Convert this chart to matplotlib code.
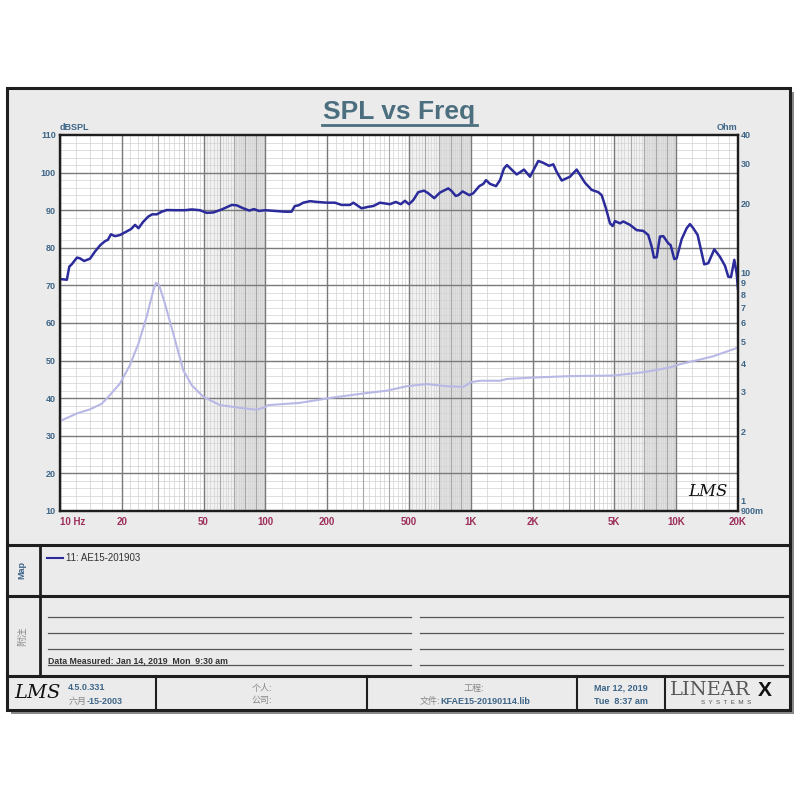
import numpy as np
import matplotlib
matplotlib.use('Agg')
import matplotlib.pyplot as plt
from matplotlib.patches import Rectangle
from matplotlib.ticker import NullLocator

plt.rcParams['font.family'] = ['Liberation Sans', 'Noto Sans CJK SC']

# SPL curve (Hz, dB SPL)
spl_freq = [10, 10.8, 11.1, 11.4, 12.1, 12.5, 13.1, 14.0, 14.8, 15.7, 16.6, 17.1,
            17.7, 18.5, 19.6, 20.7, 22.2, 23.2, 24.1, 25.4, 26.9, 28.1, 29.6, 31.3,
            33.1, 36.3, 40.6, 43.8, 48.0, 51.8, 55.8, 61.3, 68.6, 72.5, 78.1, 83.5,
            88.0, 93.1, 99.6, 124.6, 134, 139, 145, 153, 165, 178, 199, 218, 235,
            258, 268, 294, 317, 335, 361, 404, 432, 456, 478, 500, 525, 555, 592,
            621, 664, 708, 777, 807, 844, 869, 913, 983, 1028, 1100, 1151, 1186,
            1240, 1327, 1388, 1451, 1500, 1673, 1816, 1942, 2132, 2254, 2403, 2522,
            2620, 2771, 3041, 3278, 3597, 3879, 4176, 4338, 4551, 4761, 4907, 5035,
            5325, 5526, 5958, 6423, 6916, 7314, 7597, 7795, 8036, 8339, 8653, 9152,
            9401, 9789, 10055, 10636, 11247, 11674, 12116, 12723, 13700, 14330,
            15330, 16340, 17290, 17940, 18490, 19190, 19700, 20000]
spl_db = [71.7, 71.5, 75.0, 75.6, 77.4, 77.2, 76.5, 77.1, 79.0, 80.7, 81.8, 82.1,
          83.6, 83.1, 83.4, 84.1, 85.0, 86.1, 85.2, 86.9, 88.3, 88.9, 88.9, 89.6,
          90.05, 90.0, 90.0, 90.2, 90.0, 89.3, 89.4, 90.2, 91.4, 91.3, 90.5, 89.9,
          90.3, 89.8, 90.0, 89.6, 89.6, 91.1, 91.3, 92.0, 92.4, 92.2, 92.0, 92.0, 91.4,
          91.4, 92.0, 90.5, 90.9, 91.1, 92.0, 91.6, 92.2, 91.6, 92.5, 91.6, 92.7, 94.8, 95.2,
          94.5, 93.2, 94.7, 95.8, 95.1, 93.8, 94.0, 95.0, 94.0, 94.5, 96.4, 97.0, 98.0,
          97.0, 96.4, 98.0, 101.1, 102.0, 99.5, 100.8, 98.9, 103.1, 102.6, 101.8, 102.2,
          100.2, 97.9, 98.9, 100.8, 97.3, 95.4, 94.8, 94.0, 90.5, 86.5, 85.8, 87.1,
          86.5, 87.0, 86.1, 84.7, 84.5, 83.4, 80.3, 77.4, 77.5, 83.0, 83.1, 81.2,
          80.7, 77.0, 77.2, 82.3, 85.2, 86.3, 85.2, 83.4, 75.6, 75.9,
          79.6, 77.6, 75.2, 72.3, 72.2, 76.8, 73.2, 69.0]

# impedance curve (Hz, Ohm)
imp_freq = [10, 12.1, 14.0, 16.0, 17.5, 19.6, 21.9, 24.1, 26.4, 28.5, 29.3, 30.4,
            32.4, 35.6, 39.8, 43.8, 49.9, 60.1, 75.2, 90.7, 97.7, 103.3, 147, 214,
            311, 390, 488, 610, 763, 919, 1010, 1109, 1388, 1496, 2016, 3041, 4941,
            6916, 9329, 10435, 13060, 15160, 20000]
imp_ohm = [2.23, 2.41, 2.51, 2.66, 2.90, 3.26, 3.92, 4.88, 6.38, 8.36, 9.0, 8.79,
           7.31, 5.40, 3.73, 3.20, 2.85, 2.62, 2.55, 2.50, 2.55, 2.62, 2.68, 2.83,
           2.96, 3.03, 3.17, 3.24, 3.17, 3.15, 3.31, 3.35, 3.35, 3.41, 3.46, 3.51, 3.53,
           3.65, 3.83, 3.96, 4.15, 4.29, 4.68]

x_ticks = [10, 20, 50, 100, 200, 500, 1000, 2000, 5000, 10000, 20000]
x_labels = ['10 Hz', '20', '50', '100', '200', '500', '1K', '2K', '5K', '10K', '20K']
spl_ticks = list(range(10, 111, 10))
ohm_ticks = [0.9, 1, 2, 3, 4, 5, 6, 7, 8, 9, 10, 20, 30, 40]
ohm_labels = ['900m', '1', '2', '3', '4', '5', '6', '7', '8', '9', '10', '20', '30', '40']

blue = '#3e6588'
maroon = '#9c2f5b'
dark = '#1e1e1e'

fig = plt.figure(figsize=(8, 8), dpi=100)
bg = fig.add_axes([0, 0, 1, 1])
bg.set_xlim(0, 800)
bg.set_ylim(800, 0)
bg.axis('off')

# cadre général
bg.add_patch(Rectangle((11, 92), 783, 622, facecolor='#8a8a8a', edgecolor='none', zorder=0))
bg.add_patch(Rectangle((7, 88), 783, 622, facecolor='#ebebeb', edgecolor=dark, lw=2.2, zorder=1))
for y in [545, 596, 676]:
    bg.plot([7, 790], [y, y], color=dark, lw=2.2, zorder=2)
bg.plot([39.5, 39.5], [545, 676], color=dark, lw=2.0, zorder=2)
for x in [156, 367, 577, 665]:
    bg.plot([x, x], [676, 710], color=dark, lw=1.5, zorder=2)

# titre
bg.text(399, 112, 'SPL vs Freq', ha='center', va='center', fontsize=19,
        fontweight='bold', color='#4c6f80', zorder=3)
bg.plot([322, 477], [125, 125], color='#4c6f80', lw=2, zorder=3)
bg.text(60, 128, 'dBSPL', ha='left', va='center', fontsize=6.5, fontweight='bold', color=blue)
bg.text(737, 128, 'Ohm', ha='right', va='center', fontsize=6.5, fontweight='bold', color=blue)

# zone Map
bg.text(22, 570, 'Map', rotation=90, ha='center', va='center', fontsize=6.5,
        fontweight='bold', color=blue)
bg.plot([47, 63], [558, 558], color='#2b2b9b', lw=1.5)
bg.text(66, 558, '11: AE15-201903', ha='left', va='center', fontsize=7, color='#333333')

# zone notes
bg.text(22, 636, '附注', rotation=90, ha='center', va='center', fontsize=7, color='#8a8a8a')
for y in [617, 633, 649, 665]:
    bg.plot([48, 411], [y, y], color='#555555', lw=0.9)
    bg.plot([420, 783], [y, y], color='#555555', lw=0.9)
bg.text(48, 661, 'Data Measured: Jan 14, 2019  Mon  9:30 am', ha='left', va='center',
        fontsize=6.3, fontweight='bold', color='#333333')

# cartouche
bg.text(14, 693, 'LMS', ha='left', va='center', fontsize=14, fontstyle='italic',
        family='DejaVu Serif', color='#111111')
bg.text(68, 688, '4.5.0.331', ha='left', va='center', fontsize=6.5, fontweight='bold', color=blue)
bg.text(87, 701, '六月', ha='right', va='center', fontsize=6.5, color='#888888')
bg.text(87, 701, '-15-2003', ha='left', va='center', fontsize=6.5, fontweight='bold', color=blue)
bg.text(262, 688, '个人:', ha='center', va='center', fontsize=6.5, color='#888888')
bg.text(262, 701, '公司:', ha='center', va='center', fontsize=6.5, color='#888888')
bg.text(474, 688, '工程:', ha='center', va='center', fontsize=6.5, color='#888888')
bg.text(440, 701, '文件:', ha='right', va='center', fontsize=6.5, color='#888888')
bg.text(440, 701, 'KFAE15-20190114.lib', ha='left', va='center', fontsize=6.5,
        fontweight='bold', color=blue)
bg.text(621, 688, 'Mar 12, 2019', ha='center', va='center', fontsize=6.5, fontweight='bold', color=blue)
bg.text(621, 701, 'Tue  8:37 am', ha='center', va='center', fontsize=6.5, fontweight='bold', color=blue)
bg.text(670, 690, 'LINEAR', ha='left', va='center', fontsize=14, family='DejaVu Serif',
        fontweight='light', color='#555555')
bg.text(758, 690, 'X', ha='left', va='center', fontsize=15, fontweight='bold', color='#111111')
bg.text(726, 703, 'S  Y  S  T  E  M  S', ha='center', va='center', fontsize=4.5, color='#555555')

# graphique
ax = fig.add_axes([60 / 800, 1 - 511 / 800, 678 / 800, 376 / 800])
ax.set_xscale('log')
ax.set_xlim(10, 20000)
ax.set_ylim(10, 110)
ax.set_facecolor('white')

for d in [10, 100, 1000, 10000]:
    ax.axvspan(5 * d, 7 * d, color='#f1f1f1', zorder=0, lw=0)
    ax.axvspan(7 * d, 10 * d, color='#e0e0e0', zorder=0, lw=0)
    for f in np.arange(1.2, 10, 0.2) * d:
        if f <= 20000 and abs(f / d - round(f / d)) > 0.01:
            ax.axvline(f, color='#d2d2d2', lw=0.5, zorder=0.5)
    for k in [3, 4, 6, 7, 8, 9]:
        if k * d <= 20000:
            ax.axvline(k * d, color='#a8a8a8', lw=0.8, zorder=0.6)
    for k in [1, 2, 5]:
        if k * d <= 20000:
            ax.axvline(k * d, color='#7a7a7a', lw=1.0, zorder=0.7)
for v in range(12, 110, 2):
    if v % 10:
        ax.axhline(v, color='#d2d2d2', lw=0.5, zorder=0.5)
for v in range(20, 110, 10):
    ax.axhline(v, color='#7a7a7a', lw=1.0, zorder=0.7)

ax.plot(spl_freq, spl_db, color='#2b2b9b', lw=1.8, zorder=3)

ax.set_xticks(x_ticks)
ax.set_xticklabels(x_labels)
ax.xaxis.set_minor_locator(NullLocator())
ax.set_yticks(spl_ticks)
ax.tick_params(axis='x', length=0, pad=4, labelsize=7, labelcolor=maroon)
ax.tick_params(axis='y', length=0, pad=3, labelsize=6.5, labelcolor=blue)
for lab in ax.get_xticklabels() + ax.get_yticklabels():
    lab.set_fontweight('bold')
ax.get_xticklabels()[0].set_ha('left')

ax2 = ax.twinx()
ax2.set_yscale('log')
ax2.set_ylim(0.9, 40)
ax2.plot(imp_freq, imp_ohm, color='#b8b8e6', lw=1.5, zorder=2)
ax2.set_yticks(ohm_ticks)
ax2.set_yticklabels(ohm_labels)
ax2.yaxis.set_minor_locator(NullLocator())
ax2.tick_params(axis='y', length=0, pad=2, labelsize=6.5, labelcolor=blue)
for lab in ax2.get_yticklabels():
    lab.set_fontweight('bold')

for a in (ax, ax2):
    for s in a.spines.values():
        s.set_color(dark)
        s.set_linewidth(1.6)

ax.text(0.985, 0.03, 'LMS', transform=ax.transAxes, ha='right', va='bottom',
        fontsize=12, fontstyle='italic', family='DejaVu Serif', color='#111111', zorder=4)

fig.savefig('out.png', dpi=100, facecolor='white')
